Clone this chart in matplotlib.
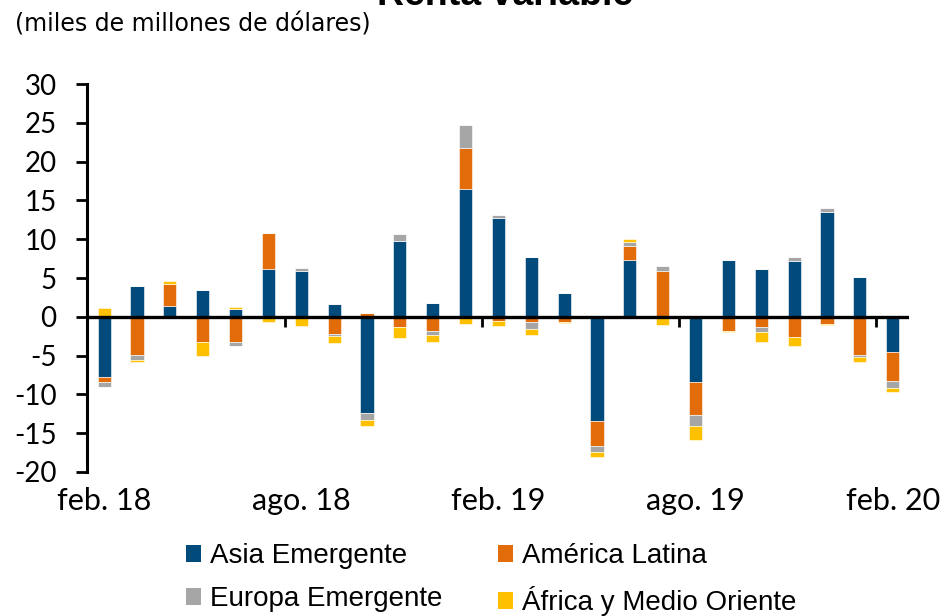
import numpy as np
import matplotlib
matplotlib.use("Agg")
import matplotlib.pyplot as plt
from matplotlib.patches import Patch

months = ["feb. 18", "mar. 18", "abr. 18", "may. 18", "jun. 18", "jul. 18",
          "ago. 18", "sep. 18", "oct. 18", "nov. 18", "dic. 18", "ene. 19",
          "feb. 19", "mar. 19", "abr. 19", "may. 19", "jun. 19", "jul. 19",
          "ago. 19", "sep. 19", "oct. 19", "nov. 19", "dic. 19", "ene. 20",
          "feb. 20"]

asia = [-7.8, 3.95, 1.33, 3.43, 0.99, 6.14, 5.84, 1.63, -12.36, 9.79, 1.8, 16.52,
        12.79, 7.68, 3.13, -13.39, 7.38, 0.0, -8.37, 7.34, 6.22, 7.25, 13.52, 5.11, -4.55]
latam = [-0.6, -4.98, 2.96, -3.22, -3.22, 4.72, 0.0, -2.19, 0.52, -1.33, -1.8, 5.28,
         -0.5, -0.73, -0.64, -3.22, 1.8, 5.92, -4.25, -1.89, -1.29, -2.58, -0.94, -4.98, -3.73]
europa = [-0.7, -0.6, 0.0, 0.0, -0.6, 0.0, 0.43, -0.26, -0.99, 0.9, -0.6, 2.92,
          0.34, -0.86, 0.0, -0.77, 0.52, 0.6, -1.46, 0.0, -0.69, 0.43, 0.47, -0.26, -0.86]
africa = [1.16, -0.3, 0.3, -1.89, 0.26, -0.69, -1.24, -0.9, -0.73, -1.42, -0.9, -0.94,
          -0.73, -0.82, -0.21, -0.73, 0.3, -1.1, -1.76, -0.13, -1.33, -1.12, -0.17, -0.64, -0.56]

series_names = ["Asia Emergente", "América Latina", "Europa Emergente", "África y Medio Oriente"]
colors = ["#004A7C", "#E36C0A", "#A6A6A6", "#FFC000"]
yticks = [30, 25, 20, 15, 10, 5, 0, -5, -10, -15, -20]

label_font = ["Lato", "DejaVu Sans"]

fig = plt.figure(figsize=(9.44, 6.16), dpi=100)
ax = fig.add_axes([0.0922, 0.2338, 0.8708, 0.6298])

x = np.arange(len(months))
pos_base = np.zeros(len(months))
neg_base = np.zeros(len(months))
for vals, col in zip([asia, latam, europa, africa], colors):
    v = np.array(vals, dtype=float)
    pos = np.where(v > 0, v, 0)
    neg = np.where(v < 0, v, 0)
    ax.bar(x, pos, bottom=pos_base, width=0.4, color=col, edgecolor="white", linewidth=0.4, zorder=2)
    ax.bar(x, neg, bottom=neg_base, width=0.4, color=col, edgecolor="white", linewidth=0.4, zorder=2)
    pos_base += pos
    neg_base += neg

ax.set_xlim(-0.52, len(months) - 0.5)
ax.set_ylim(-20, 30)

ax.axhline(0, color="black", lw=2.4, zorder=3)
tick_pos = np.arange(5.5, len(months), 6)
ax.vlines(tick_pos, 0, -1.3, color="black", lw=2, zorder=3)

for s in ["top", "right", "bottom"]:
    ax.spines[s].set_visible(False)
ax.spines["left"].set_linewidth(2.2)

ax.set_yticks(yticks)
ax.set_yticklabels([str(t) for t in yticks], fontfamily=label_font, fontsize=20)
ax.tick_params(axis="y", length=8, width=2, pad=14)

lab_idx = list(range(0, len(months), 6))
ax.set_xticks(lab_idx)
ax.set_xticklabels([months[i] for i in lab_idx], fontfamily=label_font, fontsize=22)
ax.tick_params(axis="x", length=0, pad=11)

# column-major order so that rows read: Asia | América ; Europa | África
order = [0, 2, 1, 3]
handles = [Patch(facecolor=colors[i], edgecolor="none") for i in order]
labels = [series_names[i] for i in order]
fig.legend(handles, labels, loc="lower left", bbox_to_anchor=(0.197, 0.0),
           ncol=2, frameon=False, prop={"family": ["Liberation Sans", "DejaVu Sans"], "size": 20},
           handlelength=0.55, handleheight=0.55, handletextpad=0.32, columnspacing=2.0,
           labelspacing=0.6, borderpad=0.0, borderaxespad=0.0)

fig.text(0.535, 1.008, "Renta variable", ha="center", va="center", fontsize=27,
         fontweight="bold", fontfamily=["Liberation Sans", "DejaVu Sans"])
fig.text(0.016, 0.96, "(miles de millones de dólares)", ha="left", va="center", fontsize=17,
         fontfamily=["Liberation Sans Narrow", "DejaVu Sans"])

fig.savefig("out.png", dpi=100)
